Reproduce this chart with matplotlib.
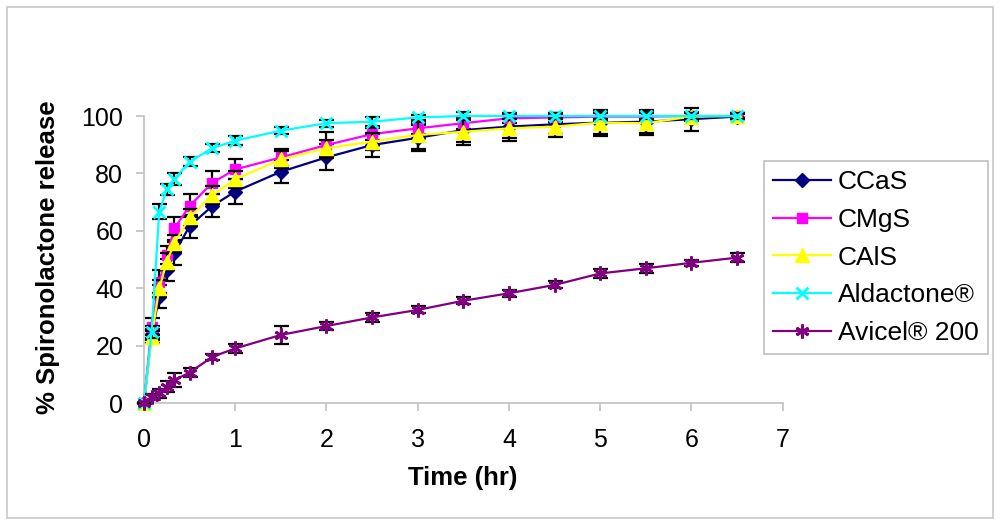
import matplotlib
matplotlib.use("Agg")
import matplotlib.pyplot as plt
from matplotlib.patches import Rectangle

plt.rcParams['font.family'] = ['Liberation Sans', 'DejaVu Sans']

# ---- data ----
time_hr = [0, 0.083, 0.167, 0.25, 0.333, 0.5, 0.75, 1, 1.5, 2, 2.5, 3, 3.5, 4, 4.5, 5, 5.5, 6, 6.5]

ccas = [0, 24, 37.1, 46.4, 52.2, 61.7, 68.7, 73.7, 80.6, 85.6, 89.9, 92.4, 95.1, 96.3, 97.1, 97.7, 98.0, 98.9, 99.8]
ccas_err = [0, 2, 4, 4, 4, 4, 4, 4.5, 4, 4.5, 4, 4.5, 4, 4, 3.5, 4, 4, 4, 1]

cmgs = [0, 26.7, 42.3, 51.6, 60.9, 68.7, 76.8, 81.4, 85.6, 89.9, 93.7, 95.7, 97.5, 99.2, 99.5, 99.8, 99.8, 100, 100]
cmgs_err = [0, 3, 4, 3, 4, 4, 4, 3.5, 3, 4.5, 2, 2, 2, 1.5, 1.5, 1.5, 1.5, 1, 1]

cals = [0, 23, 40.0, 49.3, 55.7, 64.7, 72.5, 78.0, 84.9, 88.8, 91.1, 93.4, 94.5, 95.7, 96.3, 97.7, 97.5, 99.8, 100]
cals_err = [0, 2, 3, 3, 3, 3, 3, 3, 3, 3, 3, 5, 4.5, 4.3, 3.5, 4.5, 4, 1.5, 1]

aldactone = [0, 24.9, 66.7, 74.5, 78.0, 84.1, 88.8, 91.4, 94.9, 97.5, 98.0, 99.5, 100, 100, 100, 100, 100, 100, 100]
aldactone_err = [0, 2, 2.5, 2, 2, 1.5, 1.5, 1.5, 1.2, 1.2, 1.5, 1, 1.5, 1.2, 1, 1, 1, 1, 1]

avicel = [0, 2.3, 3.5, 5.8, 8.1, 10.7, 16.2, 19.1, 23.8, 26.9, 29.9, 32.5, 35.7, 38.3, 41.2, 45.2, 47.0, 48.9, 50.7]
avicel_err = [0, 1, 1.5, 2, 2.5, 1.5, 1, 1.5, 3, 1.5, 1.5, 1.2, 1.2, 1.2, 1.2, 1.5, 1.5, 1, 1.5]

labels = ['CCaS', 'CMgS', 'CAlS', 'Aldactone\u00ae', 'Avicel\u00ae 200']
x_ticks = [0, 1, 2, 3, 4, 5, 6, 7]
y_ticks = [0, 20, 40, 60, 80, 100]

# ---- figure ----
W, H = 1000, 527
fig = plt.figure(figsize=(W / 100, H / 100), dpi=100)
ax = fig.add_axes([144 / W, 1 - 403.3 / H, (782.7 - 144) / W, (403.3 - 116) / H])

styles = [
    dict(color='#000080', marker='D', ms=7, mfc='#000080', mec='#000080'),
    dict(color='#FF00FF', marker='s', ms=7.5, mfc='#FF00FF', mec='#FF00FF'),
    dict(color='#FFFF00', marker='^', ms=9.5, mfc='#FFFF00', mec='#FFFF00'),
    dict(color='#00FFFF', marker='x', ms=8.5, mew=2, mfc='none', mec='#00FFFF'),
    dict(color='#800080', marker=(6, 2, 0), ms=10, mew=2, mfc='none', mec='#800080'),
]
series = [(ccas, ccas_err), (cmgs, cmgs_err), (cals, cals_err),
          (aldactone, aldactone_err), (avicel, avicel_err)]

for i, ((y, e), st, lab) in enumerate(zip(series, styles, labels)):
    ax.errorbar(time_hr, y, yerr=e, fmt='none', ecolor='black', elinewidth=1.6,
                capsize=5.4, capthick=1.6, zorder=2 + 2 * i, clip_on=False)
    ax.plot(time_hr, y, lw=1.6, label=lab, zorder=3 + 2 * i, clip_on=False, **st)

ax.set_xlim(0, 7)
ax.set_ylim(0, 100)
ax.set_xticks(x_ticks)
ax.set_yticks(y_ticks)
ax.set_xticklabels([str(t) for t in x_ticks])
ax.set_yticklabels([str(t) for t in y_ticks])

for s in ['top', 'right']:
    ax.spines[s].set_visible(False)
for s in ['left', 'bottom']:
    ax.spines[s].set_color('#c0c0c0')
    ax.spines[s].set_linewidth(1.2)
ax.tick_params(axis='both', direction='out', length=6, width=1.2, color='#c0c0c0',
               labelsize=18, labelcolor='black')
ax.tick_params(axis='y', pad=9)
ax.tick_params(axis='x', pad=12)

fig.text(0.048, 1 - 257 / H, '% Spironolactone release', rotation=90, ha='center', va='center',
         fontsize=18.5, fontweight='bold')
fig.text(463 / W, 1 - 478 / H, 'Time (hr)', ha='center', va='center',
         fontsize=18.5, fontweight='bold')

leg = fig.legend(loc='upper left', bbox_to_anchor=(764 / W, 1 - 161 / H),
                 bbox_transform=fig.transFigure, fontsize=19, frameon=True,
                 fancybox=False, edgecolor='#c0c0c0', framealpha=1,
                 handlelength=2.2, handletextpad=0.25, labelspacing=0.52,
                 borderpad=0.35, borderaxespad=0)
leg.get_frame().set_linewidth(1.2)

fig.patches.append(Rectangle((7 / W, 1 - 518.3 / H), (992.7 - 7) / W, (518.3 - 7) / H,
                             transform=fig.transFigure, fill=False, edgecolor='#c8c8c8',
                             linewidth=1.2))

fig.savefig('out.png', dpi=100)
